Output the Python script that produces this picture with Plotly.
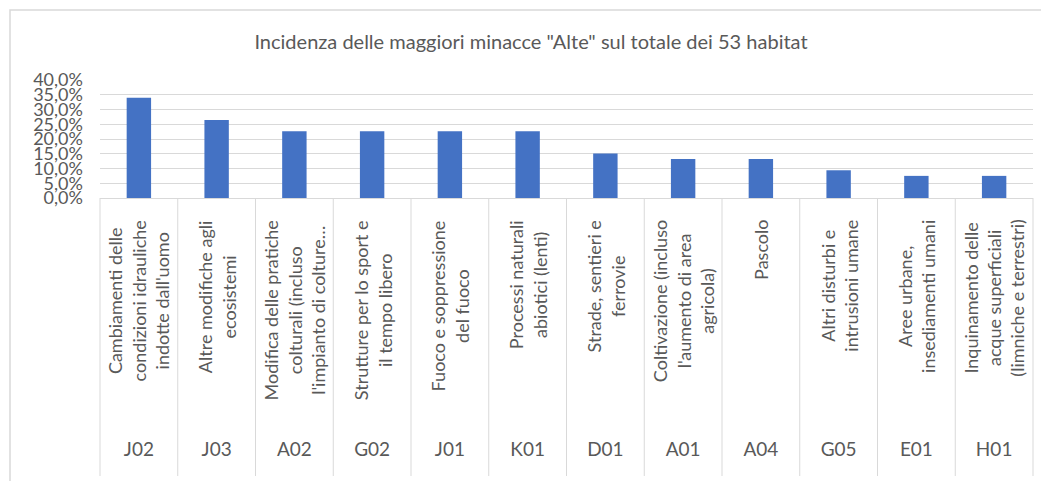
import plotly.graph_objects as go

# ---- data ----
codes = ["J02", "J03", "A02", "G02", "J01", "K01", "D01", "A01", "A04", "G05", "E01", "H01"]
descriptions = [
    ["Cambiamenti delle", "condizioni idrauliche", "indotte dall'uomo"],
    ["Altre modifiche agli", "ecosistemi"],
    ["Modifica delle pratiche", "colturali (incluso", "l'impianto di colture…"],
    ["Strutture per lo sport e", "il tempo libero"],
    ["Fuoco e soppressione", "del fuoco"],
    ["Processi naturali", "abiotici (lenti)"],
    ["Strade, sentieri e", "ferrovie"],
    ["Coltivazione (incluso", "l'aumento di area", "agricola)"],
    ["Pascolo"],
    ["Altri disturbi e", "intrusioni umane"],
    ["Aree urbane,", "insediamenti umani"],
    ["Inquinamento delle", "acque superficiali", "(limniche e terrestri)"],
]
values = [0.340, 0.264, 0.226, 0.226, 0.226, 0.226, 0.151, 0.132, 0.132, 0.094, 0.075, 0.075]
title_text = 'Incidenza delle maggiori minacce "Alte" sul totale dei 53 habitat'

# ---- layout geometry (pixels) ----
W, H = 1041, 481
L, R, T, B = 100, 1033, 80, 198
FONT = "Lato"
GREY = "#595959"
GRID = "#D9D9D9"

def px_x(p):
    return (p - L) / (R - L)

def px_y(p):
    return (B - p) / (B - T)

n = len(codes)
idx = list(range(n))

fig = go.Figure(go.Bar(
    x=idx, y=values, marker=dict(color="#4472C4", line=dict(width=0)),
    hoverinfo="skip",
))

annotations = []
for i, lines in enumerate(descriptions):
    annotations.append(dict(
        x=i, xref="x", y=px_y(218), yref="paper",
        text="<br>".join(lines), textangle=-90, showarrow=False,
        xanchor="center", yanchor="top", align="center",
        font=dict(family=FONT, size=18, color=GREY),
    ))

shapes = []
# chart border (extends beyond the visible window at right/bottom)
shapes.append(dict(type="rect", xref="paper", yref="paper",
                   x0=px_x(10), x1=px_x(1060), y0=px_y(500), y1=px_y(10),
                   line=dict(color=GRID, width=1.5), layer="below"))
# category separators
for k in range(n + 1):
    shapes.append(dict(type="line", xref="paper", yref="paper",
                       x0=k / n, x1=k / n, y0=0, y1=px_y(476),
                       line=dict(color=GRID, width=1)))

fig.update_layout(
    width=W, height=H,
    margin=dict(l=L, r=W - R, t=T, b=H - B, pad=0, autoexpand=False),
    paper_bgcolor="white", plot_bgcolor="white",
    separators=",.",
    showlegend=False,
    bargap=0.686,
    title=dict(text=title_text, x=531 / W, xref="container", xanchor="center",
               y=1 - 42 / H, yref="container", yanchor="middle",
               font=dict(family=FONT, size=20, color=GREY), automargin=False),
    xaxis=dict(range=[-0.5, n - 0.5], tickvals=idx, ticktext=codes,
               showgrid=False, showline=True, linecolor=GRID, linewidth=1,
               ticks="", ticklabelstandoff=234, automargin=False,
               tickfont=dict(family=FONT, size=19, color=GREY), fixedrange=True),
    yaxis=dict(range=[0, 0.4], dtick=0.05, tickformat=".1%",
               showgrid=True, gridcolor=GRID, gridwidth=1, zeroline=False,
               showline=False, ticks="", ticklabelstandoff=16, automargin=False,
               tickfont=dict(family=FONT, size=18, color=GREY), fixedrange=True),
    annotations=annotations,
    shapes=shapes,
)

fig.write_html("out.html", config={"displayModeBar": False},
               post_script="document.body.style.margin='0';document.body.style.overflow='hidden';")
